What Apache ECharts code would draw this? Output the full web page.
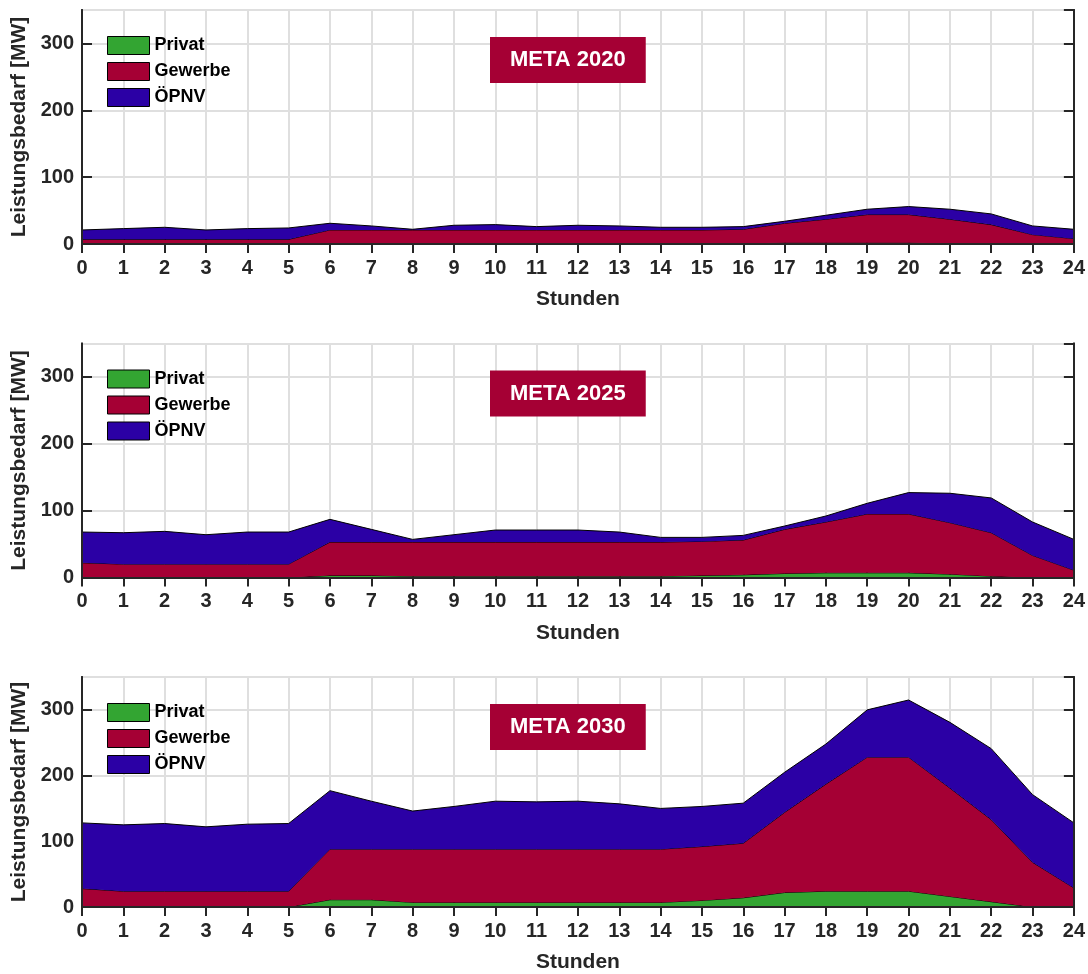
<!DOCTYPE html>
<html>
<head>
<meta charset="utf-8">
<script src="https://cdn.jsdelivr.net/npm/echarts@6/dist/echarts.min.js"></script>
<style>
  html, body { margin: 0; padding: 0; background: #fff; }
  #chart { width: 1088px; height: 974px; }
</style>
</head>
<body>
<div id="chart"></div>
<script>
// hours of the day
const hours = ['0','1','2','3','4','5','6','7','8','9','10','11','12','13','14','15','16','17','18','19','20','21','22','23','24'];
const seriesNames = ['Privat', 'Gewerbe', 'ÖPNV'];
const panelTitles = ['META 2020', 'META 2025', 'META 2030'];

// MW per hour, stacked (Privat at the bottom)
const privat2020  = [0,0,0,0,0,0,1,1,1,1,1,1,1,1,1,1,1,2,2,2,2,1,1,0,0];
const gewerbe2020 = [7,7,7,7,7,7,20,20,20,20,20,20,20,20,20,20,21,29,35,42,42,36,28,14,8];
const opnv2020    = [14,16,18,14,16,17,10,6,1,7,8,5,7,6,4,4,4,3,6,8,12,15,16,13,14];

const privat2025  = [0,0,0,0,0,0,3,3,2,2,2,2,2,2,2,3,4,6,7,7,7,5,2,0,0];
const gewerbe2025 = [22,20,20,20,20,20,50,50,51,51,51,51,51,51,51,51,52,66,76,88,88,77,65,33,11];
const opnv2025    = [46,47,49,44,48,48,34,19,4,11,18,18,18,15,7,6,7,5,9,16,32,44,52,50,46];

const privat2030  = [0,0,0,0,0,0,11,11,7,7,7,7,7,7,7,10,14,22,24,24,24,16,8,0,0];
const gewerbe2030 = [28,24,24,24,24,24,77,77,81,81,81,81,81,81,81,82,83,122,163,204,204,165,125,68,29];
const opnv2030    = [100,101,103,98,102,103,89,73,58,65,73,72,73,69,62,61,61,61,61,72,87,100,108,103,99];

const panels = [
  [privat2020, gewerbe2020, opnv2020],
  [privat2025, gewerbe2025, opnv2025],
  [privat2030, gewerbe2030, opnv2030]
];

const fillColors = ['#33a532', '#a50034', '#2b00a5'];
const textColor = '#262626';
const fontFamily = '"Liberation Sans", Arial, sans-serif';
const gridTops = [10, 343.5, 677];
const plotHeight = 234;

let chart = echarts.init(document.getElementById('chart'), null, {renderer: 'canvas'});

let grids = [], xAxes = [], yAxes = [], series = [], titles = [], legends = [];

// plain box edge drawn above the areas
function edgeAxis(kind, p, position) {
  let ax = {
    type: kind === 'x' ? 'category' : 'value', gridIndex: p, position: position,
    axisLine: {show: true, lineStyle: {color: textColor, width: 2}},
    axisTick: {show: false}, axisLabel: {show: false}, splitLine: {show: false},
    z: 10
  };
  if (kind === 'x') { ax.data = hours; ax.boundaryGap = false; }
  else { ax.min = 0; ax.max = 350; ax.interval = 100; }
  return ax;
}

panels.forEach(function (panel, p) {
  const top = gridTops[p];
  grids.push({left: 82, right: 13, top: top, height: plotHeight, containLabel: false});

  // bottom x axis with labels, grid lines stay behind the areas
  xAxes.push({
    type: 'category', gridIndex: p, data: hours, boundaryGap: false, position: 'bottom',
    name: 'Stunden', nameLocation: 'middle', nameGap: 45,
    nameTextStyle: {color: textColor, fontSize: 21, fontWeight: 'bold', fontFamily: fontFamily},
    axisLine: {show: true, lineStyle: {color: textColor, width: 2}},
    axisTick: {show: true, inside: true, length: 9, interval: 0, lineStyle: {color: textColor, width: 2}},
    axisLabel: {interval: 0, margin: 14, color: textColor, fontSize: 20, fontWeight: 'bold', fontFamily: fontFamily},
    splitLine: {show: true, interval: 0, lineStyle: {color: '#dfdfdf', width: 2}},
    z: 0
  });
  // top x axis, box edge with ticks
  xAxes.push({
    type: 'category', gridIndex: p, data: hours, boundaryGap: false, position: 'top',
    axisLine: {show: true, lineStyle: {color: textColor, width: 2}},
    axisTick: {show: true, inside: true, length: 9, interval: 0, lineStyle: {color: textColor, width: 2}},
    axisLabel: {show: false},
    splitLine: {show: false},
    z: 10
  });
  xAxes.push(edgeAxis('x', p, 'bottom'));

  yAxes.push({
    type: 'value', gridIndex: p, min: 0, max: 350, interval: 100, position: 'left',
    name: 'Leistungsbedarf [MW]', nameLocation: 'middle', nameGap: 47,
    nameTextStyle: {color: textColor, fontSize: 21, fontWeight: 'bold', fontFamily: fontFamily},
    axisLine: {show: true, lineStyle: {color: textColor, width: 2}},
    axisTick: {show: true, inside: true, length: 10, lineStyle: {color: textColor, width: 2}},
    axisLabel: {margin: 8, color: textColor, fontSize: 20, fontWeight: 'bold', fontFamily: fontFamily, showMaxLabel: false},
    splitLine: {show: true, lineStyle: {color: '#dfdfdf', width: 2}},
    z: 0
  });
  yAxes.push({
    type: 'value', gridIndex: p, min: 0, max: 350, interval: 100, position: 'right',
    axisLine: {show: true, lineStyle: {color: textColor, width: 2}},
    axisTick: {show: true, inside: true, length: 10, lineStyle: {color: textColor, width: 2}},
    axisLabel: {show: false},
    splitLine: {show: false},
    z: 0
  });
  yAxes.push(edgeAxis('y', p, 'left'));
  yAxes.push(edgeAxis('y', p, 'right'));

  panel.forEach(function (values, s) {
    series.push({
      name: seriesNames[s],
      type: 'line',
      xAxisIndex: p * 3,
      yAxisIndex: p * 4,
      stack: 'total' + p,
      data: values,
      symbol: 'none',
      smooth: false,
      lineStyle: {color: '#000', width: 1},
      itemStyle: {color: fillColors[s], borderColor: '#000', borderWidth: 1},
      areaStyle: {color: fillColors[s], opacity: 1},
      z: 2 + s
    });
  });

  titles.push({
    text: panelTitles[p],
    left: 490, top: top + 27,
    backgroundColor: '#a50034',
    padding: [12, 20],
    textStyle: {color: '#fff', fontSize: 22, fontWeight: 'bold', fontFamily: fontFamily},
    z: 12
  });

  legends.push({
    data: seriesNames,
    orient: 'vertical',
    left: 107, top: top + 26,
    padding: 0,
    icon: 'rect',
    itemWidth: 42, itemHeight: 18, itemGap: 7,
    itemStyle: {borderColor: '#000', borderWidth: 1},
    textStyle: {color: '#000', fontSize: 18, fontWeight: 'bold', fontFamily: fontFamily},
    selectedMode: false,
    z: 12
  });
});

// draw the chart
let option = {
  animation: false,
  backgroundColor: '#fff',
  title: titles,
  legend: legends,
  grid: grids,
  xAxis: xAxes,
  yAxis: yAxes,
  series: series
};
chart.setOption(option);
</script>
</body>
</html>
